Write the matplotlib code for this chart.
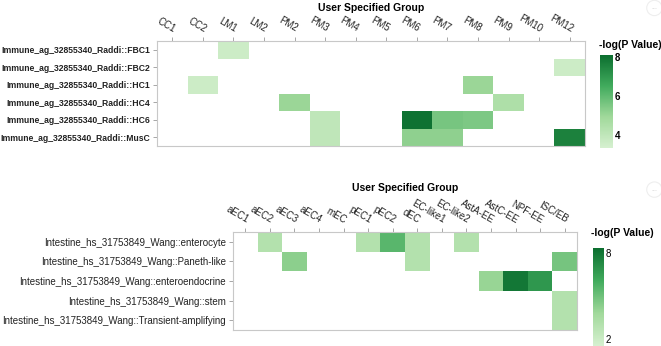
import matplotlib.pyplot as plt
import numpy as np
from matplotlib.colors import LinearSegmentedColormap

plt.rcParams['font.family'] = ['Liberation Sans', 'DejaVu Sans']

# top heatmap
top_rows = ['Immune_ag_32855340_Raddi::FBC1', 'Immune_ag_32855340_Raddi::FBC2',
            'Immune_ag_32855340_Raddi::HC1', 'Immune_ag_32855340_Raddi::HC4',
            'Immune_ag_32855340_Raddi::HC6', 'Immune_ag_32855340_Raddi::MusC']
top_cols = ['CC1', 'CC2', 'LM1', 'LM2', 'PM2', 'PM3', 'PM4', 'PM5', 'PM6', 'PM7',
            'PM8', 'PM9', 'PM10', 'PM12']
n = np.nan
top_vals = [
    [n, n, 3.6, n, n, n, n, n, n, n, n, n, n, n],
    [n, n, n, n, n, n, n, n, n, n, n, n, n, 3.6],
    [n, 3.6, n, n, n, n, n, n, n, n, 5.0, n, n, n],
    [n, n, n, n, 5.0, n, n, n, n, n, n, 4.5, n, n],
    [n, n, n, n, n, 4.0, n, n, 8.0, 5.6, 5.5, n, n, n],
    [n, n, n, n, n, 4.0, n, n, 5.2, 5.2, n, n, n, 7.6],
]

# bottom heatmap
bot_rows = ['Intestine_hs_31753849_Wang::enterocyte', 'Intestine_hs_31753849_Wang::Paneth-like',
            'Intestine_hs_31753849_Wang::enteroendocrine', 'Intestine_hs_31753849_Wang::stem',
            'Intestine_hs_31753849_Wang::Transient-amplifying']
bot_cols = ['aEC1', 'aEC2', 'aEC3', 'aEC4', 'mEC', 'pEC1', 'pEC2', 'dEC', 'EC-like1',
            'EC-like2', 'AstA-EE', 'AstC-EE', 'NPF-EE', 'ISC/EB']
bot_vals = [
    [n, 3.0, n, n, n, 3.0, 5.5, 3.0, n, 3.0, n, n, n, n],
    [n, n, 4.3, n, n, n, n, 3.0, n, n, n, n, n, 4.8],
    [n, n, n, n, n, n, n, n, n, n, 4.0, 8.0, 6.8, n],
    [n, n, n, n, n, n, n, n, n, n, n, n, n, 3.0],
    [n, n, n, n, n, n, n, n, n, n, n, n, n, 3.0],
]

cmap = LinearSegmentedColormap.from_list('gr', ['#d6f0d0', '#a1d99b', '#41ab5d', '#0b6e2f'])
edge = '#c8c8c8'


def draw_heat(fig, rect, rows, cols, vals, vmin, vmax, bold):
    ax = fig.add_axes(rect)
    data = np.ma.masked_invalid(np.array(vals, dtype=float))
    im = ax.pcolormesh(np.arange(len(cols) + 1), np.arange(len(rows) + 1), data,
                       cmap=cmap, vmin=vmin, vmax=vmax)
    ax.set_xlim(0, len(cols))
    ax.set_ylim(len(rows), 0)
    ax.set_xticks(np.arange(len(cols)) + 0.5)
    ax.set_yticks(np.arange(len(rows)) + 0.5)
    ax.xaxis.tick_top()
    ax.set_xticklabels(cols, rotation=-30, ha='right', va='bottom',
                       rotation_mode='anchor', fontsize=7, color='#222222')
    if bold:
        ax.set_yticklabels(rows, fontsize=6.2, color='#222222', fontweight='bold')
    else:
        ax.set_yticklabels(rows, fontsize=7, color='#222222')
    ax.tick_params(axis='both', length=3, width=0.6, color='#999999', pad=2)
    for s in ax.spines.values():
        s.set_color(edge)
        s.set_linewidth(0.8)
    return ax, im


fig = plt.figure(figsize=(6.61, 3.46), dpi=100)

ax1, im1 = draw_heat(fig, [0.2375, 0.578, 0.6475, 0.3035], top_rows, top_cols, top_vals, 3.3, 8.1, True)
fig.text(0.561, 0.977, 'User Specified Group', ha='center', va='center',
         fontsize=7.5, fontweight='bold')
cax1 = fig.add_axes([0.9077, 0.572, 0.0197, 0.269])
cb1 = fig.colorbar(im1, cax=cax1, ticks=[4, 6, 8])
cb1.outline.set_visible(False)
cb1.ax.tick_params(length=0, labelsize=7, pad=1)
for t in cb1.ax.get_yticklabels():
    t.set_fontweight('bold')
fig.text(0.954, 0.87, '-log(P Value)', ha='center', va='center', fontsize=7.5, fontweight='bold')

ax2, im2 = draw_heat(fig, [0.3525, 0.0462, 0.5204, 0.2832], bot_rows, bot_cols, bot_vals, 1.5, 8.35, False)
fig.text(0.613, 0.457, 'User Specified Group', ha='center', va='center',
         fontsize=7.5, fontweight='bold')
cax2 = fig.add_axes([0.897, 0.0, 0.0166, 0.283])
cb2 = fig.colorbar(im2, cax=cax2, ticks=[2, 8])
cb2.outline.set_visible(False)
cb2.ax.tick_params(length=0, labelsize=7, pad=1)
fig.text(0.942, 0.327, '-log(P Value)', ha='center', va='center', fontsize=7.5, fontweight='bold')

# faint menu buttons on the right edge
for yy in [0.977, 0.452]:
    fig.text(0.99, yy, '...', ha='center', va='center', fontsize=5, color='#cccccc',
             bbox=dict(boxstyle='circle,pad=0.6', fc='white', ec='#eeeeee', lw=0.8))

fig.savefig('out.png', dpi=100)
